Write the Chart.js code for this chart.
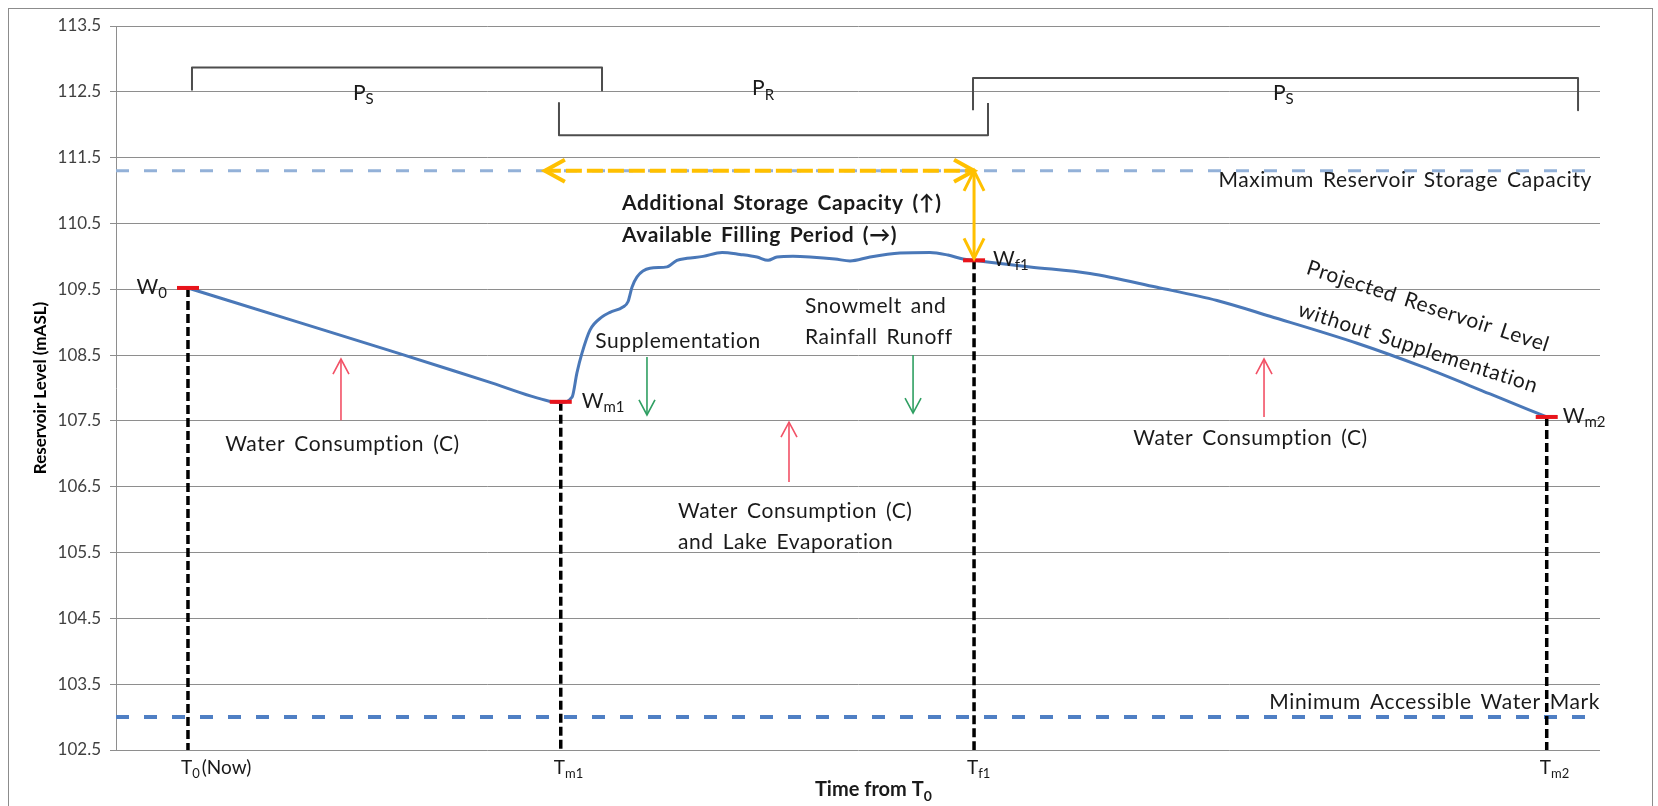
<!DOCTYPE html>
<html>
<head>
<meta charset="utf-8">
<script src="https://cdn.jsdelivr.net/npm/chart.js@4/dist/chart.umd.min.js"></script>
<style>
  html, body { margin: 0; padding: 0; background: #fff; }
  #wrap { width: 1658px; height: 806px; position: relative; }
</style>
</head>
<body>
<div id="wrap"><canvas id="chart" width="1658" height="806"></canvas></div>
<script>
// time axis is unitless, 0..100 across the plot
const levelTime = [4.85, 12.0, 19.0, 25.0, 29.2, 29.97, 30.73, 31.06,
  31.40, 31.94, 32.75, 33.29, 34.16, 34.50, 34.77, 35.11, 35.98, 37.13,
  37.80, 38.48, 39.56, 40.84, 42.05, 43.19, 43.94, 44.54, 45.62, 46.77,
  48.45, 49.46, 50.81, 52.83, 54.85, 56.06, 57.08, 57.82, 61.59, 65.63,
  70.15, 74.19, 77.76, 83.63, 88.07, 92.59, 96.41]
const levelMasl = [109.52, 109.02, 108.53, 108.10, 107.80, 107.78, 107.86, 108.23,
  108.53, 108.88, 109.08, 109.15, 109.23, 109.31, 109.53, 109.69, 109.82, 109.84,
  109.94, 109.97, 110.00, 110.06, 110.03, 109.99, 109.94, 109.99, 110.00, 109.99,
  109.96, 109.93, 109.99, 110.05, 110.06, 110.02, 109.96, 109.94, 109.84, 109.74,
  109.53, 109.33, 109.09, 108.68, 108.32, 107.91, 107.56]

// key points W0, Wm1, Wf1, Wm2 and their times T0, Tm1, Tf1, Tm2
const keyTime = [4.85, 29.97, 57.82, 96.41]
const keyLevel = [109.52, 107.79, 109.94, 107.56]
const keyW = [['W', '0'], ['W', 'm1'], ['W', 'f1'], ['W', 'm2']]
const keyT = [['T', '0', '(Now)'], ['T', 'm1', ''], ['T', 'f1', ''], ['T', 'm2', '']]

const maxCapacity = 111.3
const minWaterMark = 103.0
const yTicks = [102.5, 103.5, 104.5, 105.5, 106.5, 107.5, 108.5, 109.5, 110.5, 111.5, 112.5, 113.5]

// periods: supply, refill, supply
const periodName = ['S', 'R', 'S']
const periodFrom = [5.12, 29.85, 57.75]
const periodTo = [32.75, 58.76, 98.52]
const fillStart = 28.9

const FONT = 'Lato, "Open Sans", sans-serif'

function seg(points, color, width, dash, order) {
  return {
    type: 'line',
    data: points,
    borderColor: color,
    borderWidth: width,
    borderDash: dash || [],
    borderJoinStyle: 'round',
    pointRadius: 0,
    fill: false,
    tension: 0,
    order: order
  }
}

const datasets = []

// main reservoir level
datasets.push({
  type: 'line',
  data: levelTime.map((t, i) => ({ x: t, y: levelMasl[i] })),
  borderColor: '#4A78B8',
  borderWidth: 3,
  pointRadius: 0,
  cubicInterpolationMode: 'monotone',
  fill: false,
  order: 3
})

// red key markers
datasets.push({
  type: 'scatter',
  data: keyTime.map((t, i) => ({ x: t, y: keyLevel[i] })),
  pointStyle: 'line',
  pointRadius: 11,
  pointBorderWidth: 4,
  pointBorderColor: '#E8141B',
  order: 0
})

// limit lines
datasets.push(seg([{ x: 0, y: maxCapacity }, { x: 99.33, y: maxCapacity }], '#93B1D8', 3, [13, 15], 8))
datasets.push(seg([{ x: 0, y: minWaterMark }, { x: 99.33, y: minWaterMark }], '#4F7FC4', 4, [13, 15], 8))

// black dashed drop lines
keyTime.forEach((t, i) => {
  datasets.push(seg([{ x: t, y: keyLevel[i] }, { x: t, y: yTicks[0] }], '#000', 3.5, [9, 4], 6))
})

// yellow arrows
datasets.push(seg([{ x: fillStart, y: maxCapacity }, { x: keyTime[2], y: maxCapacity }], '#FFC000', 4, [16, 5], 2))
datasets.push(seg([{ x: keyTime[2], y: maxCapacity }, { x: keyTime[2], y: keyLevel[2] + 0.03 }], '#FFC000', 3, [], 2))

// period brackets
const bracketLevels = [[112.52, 112.87], [112.33, 111.84], [112.22, 112.71]]
periodFrom.forEach((f, i) => {
  const [endY, barY] = bracketLevels[i]
  datasets.push(seg([{ x: f, y: endY }, { x: f, y: barY }, { x: periodTo[i], y: barY }, { x: periodTo[i], y: endY }], '#4d4d4d', 2, [], 7))
})

function drawSub(ctx, base, sub, tail, x, y, size, bold, align) {
  const w = bold ? 'bold ' : ''
  const bigFont = w + size + 'px ' + FONT
  const smallFont = w + Math.round(size * 0.7) + 'px ' + FONT
  ctx.font = bigFont
  const wb = ctx.measureText(base).width
  ctx.font = smallFont
  const ws = ctx.measureText(sub).width
  ctx.font = bigFont
  const wt = tail ? ctx.measureText(tail).width : 0
  const total = wb + ws + (tail ? wt + 2 : 0)
  let sx = x
  if (align === 'right') sx = x - total
  if (align === 'center') sx = x - total / 2
  ctx.textAlign = 'left'
  ctx.textBaseline = 'middle'
  ctx.font = bigFont
  ctx.fillText(base, sx, y)
  ctx.font = smallFont
  ctx.fillText(sub, sx + wb, y + size * 0.3)
  if (tail) {
    ctx.font = bigFont
    ctx.fillText(tail, sx + wb + ws + 2, y)
  }
}

function chevron(ctx, x, y, angle, len, half) {
  ctx.beginPath()
  ctx.moveTo(x - len * Math.cos(angle) - half * Math.sin(angle), y - len * Math.sin(angle) + half * Math.cos(angle))
  ctx.lineTo(x, y)
  ctx.lineTo(x - len * Math.cos(angle) + half * Math.sin(angle), y - len * Math.sin(angle) - half * Math.cos(angle))
  ctx.stroke()
}

function arrow(ctx, x1, y1, x2, y2, color) {
  ctx.strokeStyle = color
  ctx.lineWidth = 1.6
  ctx.setLineDash([])
  ctx.beginPath()
  ctx.moveTo(x1, y1)
  ctx.lineTo(x2, y2)
  ctx.stroke()
  chevron(ctx, x2, y2, Math.atan2(y2 - y1, x2 - x1), 15, 8)
}

const annotations = {
  id: 'annotations',
  afterDatasetsDraw(chart) {
    const { ctx } = chart
    const xs = chart.scales.x, ys = chart.scales.y
    const px = v => xs.getPixelForValue(v)
    const py = v => ys.getPixelForValue(v)
    const bottom = chart.chartArea.bottom
    ctx.save()

    // yellow arrow heads
    ctx.strokeStyle = '#FFC000'
    ctx.lineWidth = 4
    ctx.lineJoin = 'miter'
    chevron(ctx, px(fillStart), py(maxCapacity), Math.PI, 20, 11)
    chevron(ctx, px(keyTime[2]), py(maxCapacity), 0, 20, 11)
    ctx.lineWidth = 3
    chevron(ctx, px(keyTime[2]), py(maxCapacity), -Math.PI / 2, 20, 10)
    chevron(ctx, px(keyTime[2]), py(keyLevel[2] + 0.03), Math.PI / 2, 20, 10)

    // inflow / outflow arrows
    const red = '#F25166', green = '#2F9F62'
    arrow(ctx, px(15.16), py(107.51), px(15.16), py(108.44), red)
    arrow(ctx, px(45.35), py(106.57), px(45.35), py(107.48), red)
    arrow(ctx, px(77.36), py(107.56), px(77.36), py(108.44), red)
    arrow(ctx, px(35.78), py(108.47), px(35.78), py(107.59), green)
    arrow(ctx, px(53.71), py(108.50), px(53.71), py(107.62), green)

    ctx.fillStyle = '#1a1a1a'
    ctx.textBaseline = 'middle'
    const txt = (s, x, y, align, bold) => {
      ctx.font = (bold ? 'bold ' : '') + '21px ' + FONT
      ctx.letterSpacing = '0.6px'
      ctx.wordSpacing = '3px'
      ctx.textAlign = align
      ctx.fillText(s, x, y)
      ctx.letterSpacing = '0px'
      ctx.wordSpacing = '0px'
    }
    txt('Water Consumption (C)', px(15.26), py(107.15), 'center')
    txt('Supplementation', px(37.87), py(108.71), 'center')
    txt('Snowmelt and', px(46.43), py(109.24), 'left')
    txt('Rainfall Runoff', px(46.43), py(108.77), 'left')
    txt('Water Consumption (C)', px(37.87), py(106.13), 'left')
    txt('and Lake Evaporation', px(37.87), py(105.66), 'left')
    txt('Water Consumption (C)', px(76.45), py(107.24), 'center')
    txt('Maximum Reservoir Storage Capacity', px(99.46), py(111.16), 'right')
    txt('Minimum Accessible Water Mark', px(100), py(103.22), 'right')
    txt('Additional Storage Capacity (\u2191)', px(34.1), py(110.81), 'left', true)
    txt('Available Filling Period (\u2192)', px(34.1), py(110.32), 'left', true)

    // rotated label along the projected decline
    const rot = 18 * Math.PI / 180
    ;[['Projected Reservoir Level', 88.41, 109.24], ['without Supplementation', 87.74, 108.61]].forEach(([s, x, y]) => {
      ctx.save()
      ctx.translate(px(x), py(y))
      ctx.rotate(rot)
      txt(s, 0, 0, 'center')
      ctx.restore()
    })

    // period labels
    const periodLabelX = [15.97, 42.86, 77.96]
    const periodLabelY = [112.48, 112.55, 112.48]
    periodName.forEach((n, i) => drawSub(ctx, 'P', n, '', px(periodLabelX[i]), py(periodLabelY[i]), 21, false, 'left'))

    // key point labels
    const wOffset = [-21, 21, 19, 16]
    keyW.forEach((w, i) => {
      const x = px(keyTime[i]) + wOffset[i]
      drawSub(ctx, w[0], w[1], '', x, py(keyLevel[i]) - 1, 21, false, i === 0 ? 'right' : 'left')
    })

    // time labels under the axis
    keyT.forEach((t, i) => {
      drawSub(ctx, t[0], t[1], t[2], px(keyTime[i]) - 7, bottom + 18, 19, false, 'left')
    })
    drawSub(ctx, 'Time from T', '0', '', px(47.1), bottom + 40, 20, true, 'left')

    ctx.restore()
  },
  afterDraw(chart) {
    const { ctx } = chart
    ctx.save()
    ctx.strokeStyle = '#8c8c8c'
    ctx.lineWidth = 1
    ctx.strokeRect(8.5, 8.5, 1644, 806)
    ctx.restore()
  }
}

new Chart(document.getElementById('chart'), {
  type: 'line',
  data: { datasets: datasets },
  options: {
    responsive: false,
    animation: false,
    events: [],
    layout: { padding: { top: 26, right: 58, bottom: 56, left: 0 } },
    plugins: { legend: { display: false }, tooltip: { enabled: false } },
    scales: {
      x: {
        type: 'linear',
        min: 0,
        max: 100,
        ticks: { display: false },
        grid: { display: false },
        border: { display: false },
        afterFit: s => { s.height = 0 }
      },
      y: {
        min: yTicks[0],
        max: yTicks[yTicks.length - 1],
        ticks: {
          stepSize: 1,
          maxTicksLimit: 20,
          padding: 9,
          color: '#404040',
          font: { family: FONT, size: 17 },
          callback: v => v.toFixed(1)
        },
        grid: { color: '#8e8e8e', lineWidth: 1, tickLength: 6 },
        border: { display: true, color: '#8e8e8e' },
        title: {
          display: true,
          text: 'Reservoir Level (mASL)',
          color: '#000',
          font: { family: FONT, size: 17, weight: 'bold' },
          padding: { top: 30, bottom: 0 }
        },
        afterFit: s => { s.width = 116 }
      }
    }
  },
  plugins: [annotations]
})
</script>
</body>
</html>
